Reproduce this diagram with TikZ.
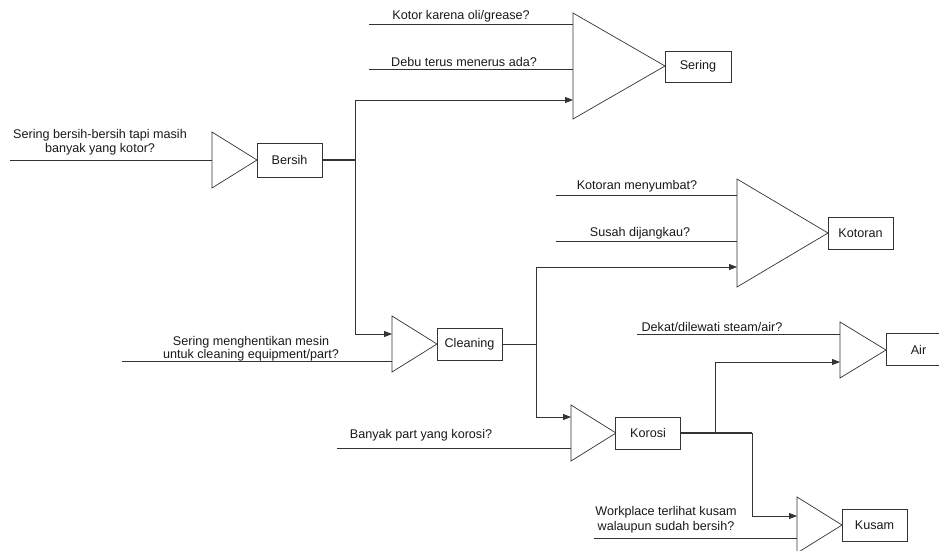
\documentclass[tikz,border=0pt]{standalone}
\usepackage{fontspec}
\setmainfont{Liberation Sans}
\usetikzlibrary{arrows.meta}
\begin{document}
\begin{tikzpicture}[x=1pt,y=-1pt,
  every node/.style={font=\fontsize{12.6}{14.5}\selectfont, text=black!90},
  wire/.style={draw=black!80, line width=0.8pt},
  thickwire/.style={draw=black!80, line width=1.4pt},
  arrowwire/.style={wire, -{Triangle[length=8pt,width=6pt]}},
  gate/.style={draw=black!80, line width=0.7pt, fill=white},
  outbox/.style={draw=black!80, line width=0.7pt, fill=white, rectangle, minimum width=65pt, minimum height=32pt, inner sep=0pt},
  lbl/.style={align=center, inner sep=0pt}
]
\useasboundingbox (0,0) rectangle (939,550);

% ---------- Sering ----------
\coordinate (sA) at (573,13);
\coordinate (sB) at (573,119);
\coordinate (sC) at (665,66);
\draw[gate] (sA) -- (sB) -- (sC) -- cycle;
\node[outbox, minimum width=66pt, minimum height=31pt] (sering) at (698,66.5) {Sering};
\coordinate (s1) at (369,24);
\coordinate (s1e) at (573,24);
\coordinate (s2) at (369,69);
\coordinate (s2e) at (573,69);
\coordinate (s3e) at (573,100);
\draw[wire] (s1) -- (s1e);
\draw[wire] (s2) -- (s2e);
\node[lbl] (ts1) at (461,16) {Kotor karena oli/grease?};
\node[lbl] (ts2) at (464,62) {Debu terus menerus ada?};

% ---------- Bersih ----------
\coordinate (bA) at (212,132);
\coordinate (bB) at (212,188);
\coordinate (bC) at (257,160);
\draw[gate] (bA) -- (bB) -- (bC) -- cycle;
\node[outbox, minimum height=34pt] (bersih) at (289.5,160) {Bersih};
\coordinate (b1) at (10,160);
\draw[wire] (b1) -- (bA |- b1);
\node[lbl] (tb1) at (100,142) {Sering bersih-bersih tapi masih\\banyak yang kotor?};
\coordinate (bj) at (355,160);
\coordinate (bt) at (355,100);
\coordinate (bb) at (355,334);
\draw[thickwire] (bersih.east) -- (bj);
\draw[arrowwire] (bb) -- (bt) -- (s3e);
\coordinate (cA) at (392,316);
\draw[arrowwire] (bb) -- (cA |- bb);

% ---------- Cleaning ----------
\coordinate (cB) at (392,372);
\coordinate (cC) at (437,344);
\draw[gate] (cA) -- (cB) -- (cC) -- cycle;
\node[outbox] (cleaning) at (469.5,344) {Cleaning};
\coordinate (c1) at (122,361);
\draw[wire] (c1) -- (cA |- c1);
\node[lbl, font=\fontsize{12.6}{11.5}\selectfont] (tc1) at (251,348.5) {Sering menghentikan mesin\\untuk cleaning equipment/part?};
\coordinate (cj) at (536,344);
\coordinate (ct) at (536,267);
\coordinate (cb) at (536,417);
\draw[wire] (cleaning.east) -- (cj);

% ---------- Kotoran ----------
\coordinate (kA) at (737,179);
\coordinate (kB) at (737,287);
\coordinate (kC) at (828,233);
\draw[gate] (kA) -- (kB) -- (kC) -- cycle;
\node[outbox] (kotoran) at (860.5,233) {Kotoran};
\coordinate (k1) at (556,195);
\coordinate (k2) at (556,241);
\draw[wire] (k1) -- (kA |- k1);
\draw[wire] (k2) -- (kA |- k2);
\node[lbl] (tk1) at (637,186) {Kotoran menyumbat?};
\node[lbl] (tk2) at (640,233) {Susah dijangkau?};
\draw[arrowwire] (cb) -- (ct) -- (kA |- ct);

% ---------- Korosi ----------
\coordinate (oA) at (571,405);
\coordinate (oB) at (571,461);
\coordinate (oC) at (616,433);
\draw[arrowwire] (cb) -- (oA |- cb);
\draw[gate] (oA) -- (oB) -- (oC) -- cycle;
\node[outbox] (korosi) at (648,433) {Korosi};
\coordinate (o1) at (337,448);
\draw[wire] (o1) -- (oA |- o1);
\node[lbl] (to1) at (421,435) {Banyak part yang korosi?};
\coordinate (oj1) at (715,433);
\coordinate (oj2) at (752,433);
\draw[thickwire] (korosi.east) -- (oj2);

% ---------- Air ----------
\coordinate (aA) at (840,322);
\coordinate (aB) at (840,378);
\coordinate (aC) at (886,350);
\draw[arrowwire] (oj1) -- (715,362) -- (aA |- 715,362);
\draw[gate] (aA) -- (aB) -- (aC) -- cycle;
\node[outbox] (air) at (918.5,349.5) {Air};
\coordinate (a1) at (637,334);
\draw[wire] (a1) -- (aA |- a1);
\node[lbl] (ta1) at (712,327) {Dekat/dilewati steam/air?};

% ---------- Kusam ----------
\coordinate (uA) at (797,497);
\coordinate (uB) at (797,553);
\coordinate (uC) at (842,525);
\draw[arrowwire] (oj2) -- (752,516) -- (uA |- 752,516);
\draw[gate] (uA) -- (uB) -- (uC) -- cycle;
\node[outbox] (kusam) at (874.5,525) {Kusam};
\coordinate (u1) at (594,538);
\draw[wire] (u1) -- (uA |- u1);
\node[lbl] (tu1) at (666,519.5) {Workplace terlihat kusam\\walaupun sudah bersih?};
\end{tikzpicture}
\end{document}
